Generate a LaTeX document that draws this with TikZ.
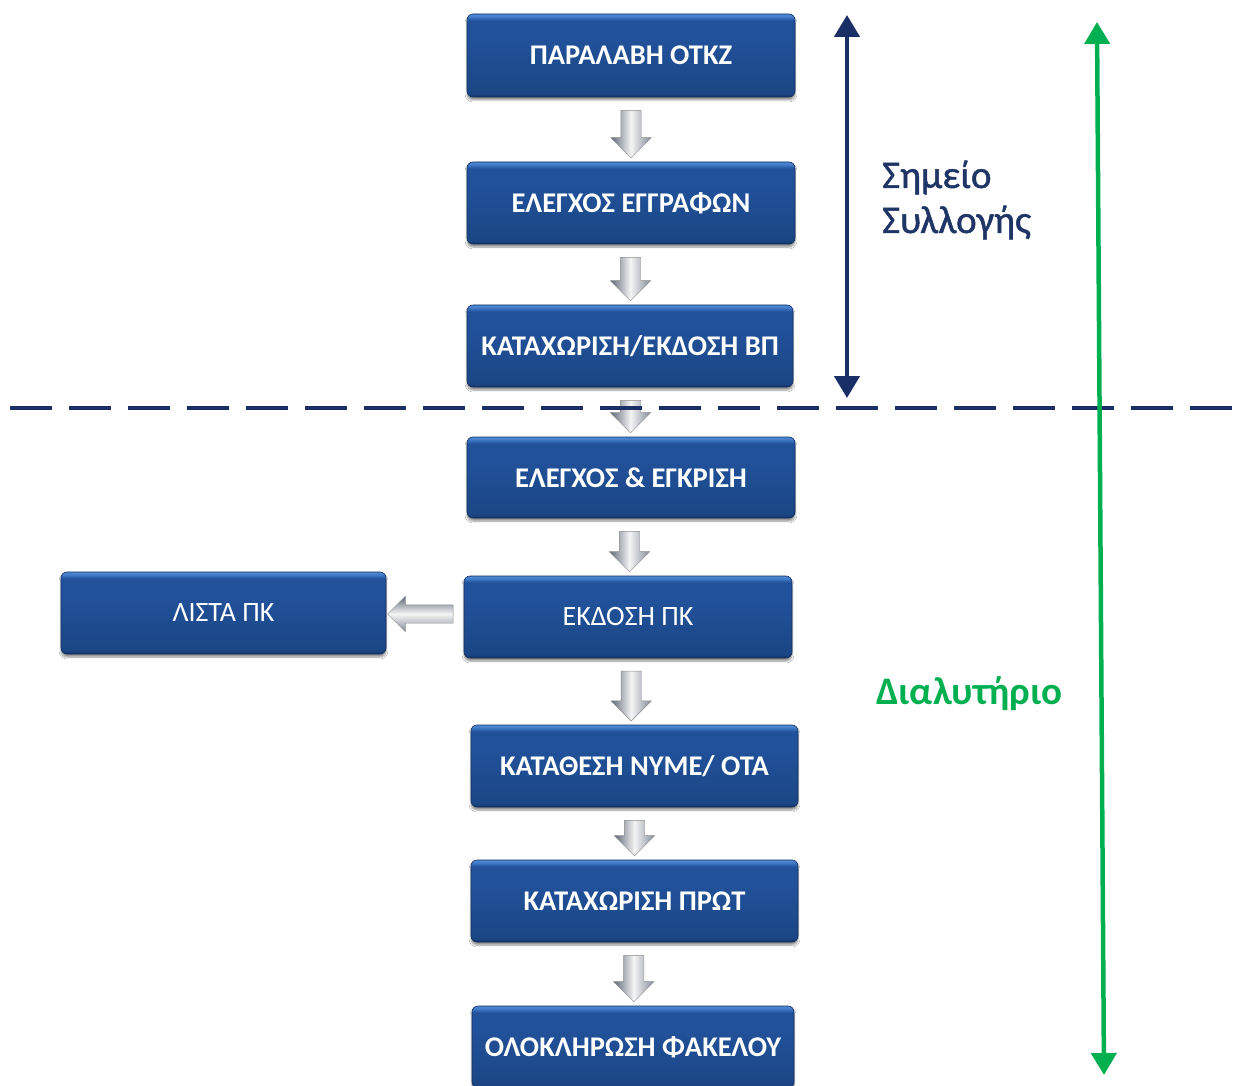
\documentclass[tikz,border=0pt]{standalone}
\usepackage{fontspec}
\setmainfont{Carlito}
\newfontfamily\semibfont[FakeBold=1.2]{Carlito}
\usetikzlibrary{shapes.arrows,shadows.blur,calc,arrows.meta}
\definecolor{boxtop}{HTML}{4A85D2}
\definecolor{boxmid}{HTML}{21519A}
\definecolor{boxmain}{HTML}{1B4684}
\definecolor{boxbot}{HTML}{12305F}
\definecolor{navyline}{HTML}{1A2F66}
\definecolor{navytext}{HTML}{1F3566}
\definecolor{greenline}{HTML}{00B050}
\definecolor{arrL}{HTML}{5F6777}
\definecolor{arrR}{HTML}{838B99}
\pgfdeclareverticalshading{boxshade}{100bp}{color(0bp)=(boxbot); color(25bp)=(boxbot); color(27bp)=(boxmain); color(60bp)=(boxmid); color(71bp)=(boxmid); color(74bp)=(boxtop); color(100bp)=(boxtop)}
\newcommand\downblock[2]{%
  \path let \p1=($(#1.south)+(0,8)$), \p2=($(#2.north)+(0,-9)$),
    \n1={veclen(\x2-\x1,\y2-\y1)} in
    node[downarrow, minimum height=\n1] (arr-#1) at ($(\p1)!0.5!(\p2)$) {};}
\begin{document}
\begin{tikzpicture}[x=1pt,y=-1pt,
  stepbox/.style={rectangle, rounded corners=6pt, shading=boxshade, draw=boxbot, line width=0.6pt,
    text=white, font=\fontsize{28.5}{32}\selectfont\bfseries, inner sep=0pt,
    blur shadow={shadow xshift=0pt, shadow yshift=-3pt, shadow blur steps=6, shadow opacity=45}},
  plainbox/.style={stepbox, font=\fontsize{28}{32}\selectfont},
  downarrow/.style={shape=single arrow, shape border rotate=270, inner sep=10pt,
    single arrow head extend=10pt, single arrow tip angle=90, draw=gray!90, line width=0.4pt,
    left color=arrL, right color=arrR, middle color=gray!8},
  leftarrow/.style={shape=single arrow, shape border rotate=180, inner sep=9pt,
    single arrow head extend=8.5pt, single arrow tip angle=90, draw=gray!90, line width=0.4pt,
    top color=arrL, bottom color=arrR, middle color=gray!8},
  navyarrow/.style={draw=navyline, line width=4.5pt, {Triangle[width=25pt,length=22pt]}-{Triangle[width=25pt,length=22pt]}},
  greenarrow/.style={draw=greenline, line width=4.5pt, {Triangle[width=25pt,length=22pt]}-{Triangle[width=25pt,length=22pt]}},
  sepline/.style={draw=navyline, line width=4.5pt, dash pattern=on 42pt off 17pt}
]
\clip (0,0) rectangle (1235,1086);
\fill[white] (0,0) rectangle (1235,1086);

\node[stepbox, minimum width=328pt, minimum height=83pt] (b1) at (631,55.5) {ΠΑΡΑΛΑΒΗ ΟΤΚΖ};
\node[stepbox, minimum width=328pt, minimum height=82pt] (b2) at (631,203) {ΕΛΕΓΧΟΣ ΕΓΓΡΑΦΩΝ};
\node[stepbox, minimum width=326pt, minimum height=82pt] (b3) at (630,346) {ΚΑΤΑΧΩΡΙΣΗ/ΕΚΔΟΣΗ ΒΠ};
\node[stepbox, minimum width=328pt, minimum height=81pt] (b4) at (631,477.5) {ΕΛΕΓΧΟΣ \& ΕΓΚΡΙΣΗ};
\node[plainbox, minimum width=328pt, minimum height=82pt] (b5) at (628,617) {ΕΚΔΟΣΗ ΠΚ};
\node[plainbox, minimum width=325pt, minimum height=82pt] (lista) at (223.5,613) {ΛΙΣΤΑ ΠΚ};
\node[stepbox, minimum width=327pt, minimum height=82pt] (b6) at (634.5,766) {ΚΑΤΑΘΕΣΗ ΝΥΜΕ/ ΟΤΑ};
\node[stepbox, minimum width=327pt, minimum height=82pt] (b7) at (634.5,901) {ΚΑΤΑΧΩΡΙΣΗ ΠΡΩΤ};
\node[stepbox, minimum width=322pt, minimum height=82pt] (b8) at (633,1047) {ΟΛΟΚΛΗΡΩΣΗ ΦΑΚΕΛΟΥ};

\downblock{b1}{b2}
\downblock{b2}{b3}
\downblock{b3}{b4}
\downblock{b4}{b5}
\downblock{b5}{b6}
\downblock{b6}{b7}
\downblock{b7}{b8}
\path let \p1=($(b5.west)+(-6,-2)$), \p2=($(lista.east)+(6,0)$),
    \n1={veclen(\x2-\x1,\y2-\y1)} in
    node[leftarrow, minimum height=\n1] (arr-l) at ($(\p1)!0.5!(\p2)$) {};

\coordinate (dl) at (10,408);
\coordinate (dr) at (1240,408);
\draw[sepline] (dl) -- (dr);

\coordinate (nt) at (847,15);
\coordinate (nb) at (847,398);
\draw[navyarrow] (nt) -- (nb);

\coordinate (gt) at (1097,22);
\coordinate (gb) at (1104,1075);
\draw[greenarrow] (gt) -- (gb);

\node[anchor=base west, inner sep=0pt, text=navytext, font=\fontsize{39}{44}\selectfont\semibfont] (lab1) at (882,188) {Σημείο};
\node[anchor=base west, inner sep=0pt, text=navytext, font=\fontsize{39}{44}\selectfont\semibfont] (lab2) at (882,233) {Συλλογής};
\node[anchor=base west, inner sep=0pt, text=greenline, font=\fontsize{39}{44}\selectfont\bfseries] (dial) at (876,704) {Διαλυτήριο};
\end{tikzpicture}
\end{document}
